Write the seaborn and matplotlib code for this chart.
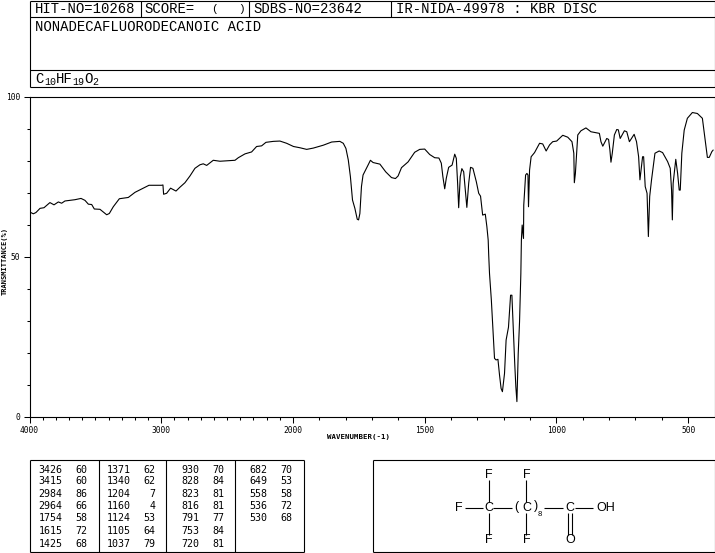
import numpy as np
import pandas as pd
import matplotlib
matplotlib.use('Agg')
import matplotlib.pyplot as plt
import seaborn as sns

# spectrum
wavenumber = [4000, 3971, 3951, 3920, 3890, 3845, 3814, 3781, 3756, 3731, 3655, 3609, 3579, 3553, 3528,
              3508, 3465, 3414, 3394, 3364, 3318, 3250, 3199, 3136, 3093, 2997, 2987, 2982, 2959, 2929,
              2888, 2858, 2820, 2782, 2744, 2706, 2681, 2655, 2605, 2554, 2440, 2415, 2364, 2314, 2276,
              2238, 2205, 2149, 2099, 2048, 1998, 1973, 1948, 1923, 1885, 1853, 1822, 1809, 1799, 1790,
              1782, 1774, 1765, 1756, 1751, 1746, 1740, 1734, 1724, 1715, 1706, 1696, 1670, 1648, 1626,
              1611, 1601, 1588, 1563, 1538, 1519, 1500, 1481, 1462, 1446, 1437, 1431, 1424, 1418, 1409,
              1396, 1386, 1380, 1375, 1371, 1365, 1359, 1352, 1346, 1340, 1333, 1326, 1317, 1304, 1295,
              1288, 1280, 1270, 1264, 1259, 1257, 1254, 1247, 1241, 1235, 1229, 1222, 1216, 1210, 1205,
              1197, 1191, 1182, 1174, 1169, 1163, 1158, 1154, 1150, 1145, 1140, 1135, 1133, 1130, 1125,
              1124, 1117, 1112, 1108, 1106, 1102, 1096, 1083, 1064, 1052, 1039, 1026, 1014, 999, 976,
              957, 941, 934, 932, 928, 919, 907, 888, 869, 837, 831, 824, 809, 802, 797,
              793, 788, 780, 771, 765, 758, 742, 733, 723, 705, 696, 688, 683, 673, 669,
              663, 656, 651, 646, 639, 626, 610, 597, 578, 568, 563, 560, 557, 547, 540,
              534, 530, 524, 515, 503, 484, 465, 446, 437, 427, 420, 410, 405]
transmittance = [64.0, 63.4, 63.8, 65.1, 65.3, 66.9, 66.2, 67.1, 66.7, 67.4, 67.8, 68.2, 67.6, 66.4, 66.3,
                 64.9, 64.8, 63.1, 63.5, 65.6, 68.1, 68.5, 70.1, 71.4, 72.3, 72.3, 72.4, 69.5, 69.8, 71.4,
                 70.5, 71.7, 73.1, 75.2, 77.6, 78.7, 79.0, 78.5, 80.1, 79.8, 80.1, 80.9, 82.1, 82.7, 84.4,
                 84.6, 85.7, 86.0, 86.1, 85.4, 84.4, 84.0, 83.5, 83.9, 84.8, 85.8, 86.0, 85.4, 83.8, 80.2,
                 75.0, 67.7, 65.1, 61.7, 61.5, 63.5, 71.9, 75.5, 77.1, 78.6, 80.1, 79.4, 78.9, 76.5, 74.7,
                 74.4, 75.2, 77.8, 79.6, 82.6, 83.5, 83.6, 81.9, 80.9, 80.8, 79.2, 75.0, 71.2, 74.5, 77.9,
                 78.6, 82.0, 80.7, 72.9, 65.3, 75.0, 77.5, 76.5, 70.8, 65.4, 72.9, 77.9, 77.6, 73.4, 69.8,
                 68.9, 63.0, 63.3, 59.4, 55.2, 50.5, 44.8, 36.5, 27.1, 18.3, 17.8, 18.0, 13.1, 8.9, 7.9,
                 13.6, 24.0, 28.0, 38.0, 38.0, 26.0, 16.2, 9.4, 4.8, 19.8, 29.7, 44.8, 55.2, 59.9, 55.7,
                 66.1, 75.5, 76.0, 75.5, 65.6, 77.0, 81.2, 82.5, 85.4, 85.2, 83.0, 84.9, 85.9, 86.1, 87.9,
                 87.3, 85.9, 82.3, 73.1, 76.0, 88.0, 89.3, 90.2, 89.0, 88.5, 85.9, 84.5, 86.9, 86.6, 83.3,
                 79.5, 82.3, 88.0, 89.7, 89.6, 86.9, 89.3, 89.0, 85.9, 88.2, 85.9, 81.2, 74.0, 81.2, 81.2,
                 71.9, 69.8, 56.3, 68.8, 74.0, 82.3, 83.0, 82.5, 79.7, 77.6, 70.8, 61.5, 72.9, 80.4, 76.0,
                 70.8, 70.8, 82.3, 89.5, 93.2, 95.0, 94.7, 93.2, 87.5, 81.0, 81.0, 82.8, 83.3]

x_major = [4000, 3000, 2000, 1500, 1000, 500]
y_major = [0, 50, 100]

# peak table, one list per column
peak_wn_1 = ['3426', '3415', '2984', '2964', '1754', '1615', '1425']
peak_t_1 = ['60', '60', '86', '66', '58', '72', '68']
peak_wn_2 = ['1371', '1340', '1204', '1160', '1124', '1105', '1037']
peak_t_2 = ['62', '62', '7', '4', '53', '64', '79']
peak_wn_3 = ['930', '828', '823', '816', '791', '753', '720']
peak_t_3 = ['70', '84', '81', '81', '77', '84', '81']
peak_wn_4 = ['682', '649', '558', '536', '530']
peak_t_4 = ['70', '53', '58', '72', '68']

W, H = 715, 553
MONO = 'Liberation Mono'

sns.set_style('ticks')
plt.rcParams['font.family'] = ['DejaVu Sans Mono', 'DejaVu Sans']

fig = plt.figure(figsize=(W / 100, H / 100), dpi=100)

# spectrum axes, pixel box 29.5..714.5 / 96.5..417
ax = fig.add_axes([29.5 / W, 1 - 417 / H, 685 / W, 320.5 / H])


# 4000-2000 is drawn at half the scale of 2000-400
def forward(v):
    v = np.asarray(v, dtype=float)
    return np.where(v >= 2000, v / 2 + 1000, v)


def inverse(v):
    v = np.asarray(v, dtype=float)
    return np.where(v >= 2000, (v - 1000) * 2, v)


df = pd.DataFrame({'wn': wavenumber, 't': transmittance})
sns.lineplot(data=df, x='wn', y='t', sort=False, estimator=None, errorbar=None,
             color='black', linewidth=0.8, ax=ax)
ax.set_xscale('function', functions=(forward, inverse))
ax.set_xlim(4000, 400)
ax.set_ylim(0, 100)
ax.set_xticks(x_major)
ax.set_xticks(np.arange(500, 4000, 100), minor=True)
ax.set_yticks(y_major)
ax.set_yticks(np.arange(0, 101, 10), minor=True)
ax.tick_params(which='major', length=4.5, width=0.75, labelsize=5.7, pad=2, color='black', labelcolor='black')
ax.tick_params(which='minor', length=2.2, width=0.75, color='black')
ax.set_xlabel('')
ax.set_ylabel('')
for s in ax.spines.values():
    s.set_linewidth(0.8)
    s.set_color('black')

# overlay in pixel coordinates for the header, table and structure
ov = fig.add_axes([0, 0, 1, 1], facecolor='none')
ov.set_xlim(0, W)
ov.set_ylim(H, 0)
ov.axis('off')


def seg(x0, y0, x1, y1, lw=0.8):
    ov.plot([x0, x1], [y0, y1], color='black', lw=lw, solid_capstyle='butt')


def label(x, y, s, size=10, ha='left', family=MONO, **kw):
    ov.text(x, y, s, fontsize=size, ha=ha, va='center', family=family, color='black', **kw)


# axis titles
label(358.5, 437, 'WAVENUMBER(-1)', size=5.3, ha='center', family='DejaVu Sans Mono', fontweight='bold')
label(4.5, 261, 'TRANSMITTANCE(%)', size=5, ha='center', rotation=90, family='DejaVu Sans Mono', fontweight='bold')

# header box
seg(29.5, 0.5, 714.5, 0.5)
seg(29.5, 17, 714.5, 17)
seg(29.5, 69.5, 714.5, 69.5)
seg(29.5, 87, 714.5, 87)
seg(29.5, 0.5, 29.5, 87)
seg(714.5, 0.5, 714.5, 87)
seg(140.5, 0.5, 140.5, 17)
seg(248.5, 0.5, 248.5, 17)
seg(390.5, 0.5, 390.5, 17)
label(35, 9, 'HIT-NO=10268')
label(144.5, 9, 'SCORE=')
label(211, 9, '(', size=8)
label(238, 9, ')', size=8)
label(253, 9, 'SDBS-NO=23642')
label(396, 9, 'IR-NIDA-49978 : KBR DISC')
label(35, 27, 'NONADECAFLUORODECANOIC ACID')
label(35, 79, 'C')
label(44.5, 82, '10', size=7.2)
label(56, 79, 'HF')
label(72.5, 82, '19', size=7.2)
label(84.5, 79, 'O')
label(92.5, 82, '2', size=7.2)

# peak table
seg(29.5, 460, 303.5, 460)
seg(29.5, 552, 303.5, 552)
for xv in [29.5, 98.7, 166.3, 235.3, 303.5]:
    seg(xv, 460, xv, 552)
row_y = [470, 481.5, 494, 506, 518, 531, 544]
table_cols = [(peak_wn_1, 62.5, peak_t_1, 87.5), (peak_wn_2, 130.5, peak_t_2, 155.5),
              (peak_wn_3, 199.5, peak_t_3, 224.5), (peak_wn_4, 267.5, peak_t_4, 292.5)]
for wns, xw, ts, xt in table_cols:
    for yy, a, b in zip(row_y, wns, ts):
        label(xw, yy, a, size=7.2, ha='right', family='DejaVu Sans Mono')
        label(xt, yy, b, size=7.2, ha='right', family='DejaVu Sans Mono')

# structure box
seg(372.7, 460, 714.5, 460)
seg(372.7, 552, 714.5, 552)
seg(372.7, 460, 372.7, 552)
seg(714.5, 460, 714.5, 552)
SANS = 'Liberation Sans'
for x, y, s in [(489, 474.5, 'F'), (526.7, 474.5, 'F'), (459, 508, 'F'), (489, 508, 'C'),
                (516.7, 507, '('), (526.7, 508, 'C'), (536.5, 506, ')'), (570, 508, 'C'),
                (605.5, 508, 'OH'), (489, 540, 'F'), (526.7, 540, 'F'), (570.5, 540, 'O')]:
    label(x, y, s, size=9, ha='center', family=SANS)
label(540, 514.5, '8', size=5.5, ha='center', family=SANS)
for x0, y0, x1, y1 in [(465, 507.7, 483.3, 507.7), (493.3, 507.7, 511.7, 507.7), (544.3, 507.7, 563.3, 507.7),
                       (575, 507.7, 593.3, 507.7), (489, 480, 489, 501.7), (489, 513.3, 489, 535),
                       (526, 480, 526, 501.7), (526, 513.3, 526, 535), (568.3, 513.3, 568.3, 535),
                       (572, 513.3, 572, 535)]:
    seg(x0, y0, x1, y1)

fig.savefig('out.png', dpi=100, facecolor='white')
